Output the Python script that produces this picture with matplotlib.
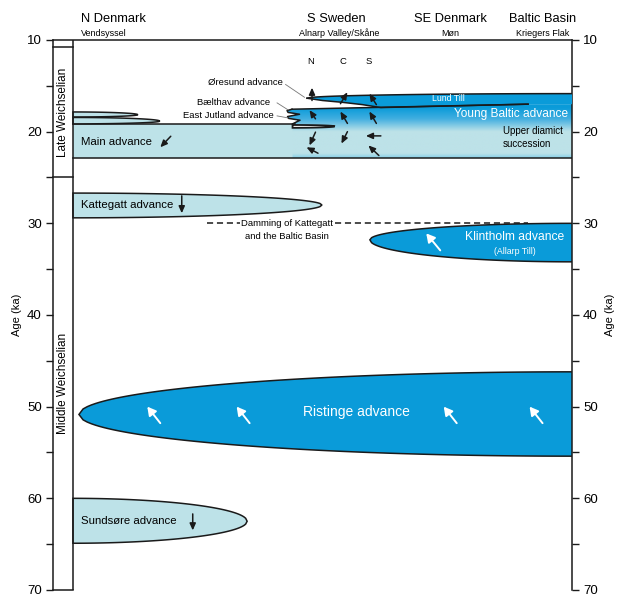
import matplotlib
matplotlib.use("Agg")
import matplotlib.pyplot as plt
import numpy as np
from matplotlib.patches import Polygon
from matplotlib.colors import LinearSegmentedColormap
from matplotlib.ticker import MultipleLocator

plt.rcParams['font.family'] = ['Liberation Sans', 'DejaVu Sans']

LIGHT = '#bde2e8'
DARK = '#0a9bd9'
LINE = '#1a1a1a'

# x = distance along the transect (0 = N Denmark, 100 = Baltic Basin), y = age in ka
regions = ['N Denmark', 'S Sweden', 'SE Denmark', 'Baltic Basin']
sites = ['Vendsyssel', 'Alnarp Valley/Skåne', 'Møn', 'Kriegers Flak']
region_x = [1.6, 53.3, 75.6, 94.2]

# advances drawn as lenses: tip position and ka range at their base
lens_names = ['Sundsøre advance', 'Kattegatt advance', 'Ristinge advance', 'Klintholm advance']
lens_tip_x = [34.9, 49.9, 1.2, 59.5]
lens_tip_ka = [62.5, 28.0, 50.85, 31.8]
lens_base_x = [0, 0, 100, 100]
lens_top_ka = [60.0, 26.7, 46.2, 30.0]
lens_bot_ka = [64.9, 29.4, 55.4, 34.2]
lens_colors = [LIGHT, LIGHT, DARK, DARK]

# small Late Weichselian lenses in N Denmark
late_tip_x = [13.0, 17.4]
late_tip_ka = [18.15, 18.85]
late_top_ka = [17.85, 18.45]
late_bot_ka = [18.4, 19.15]

# main advance band
main_top_ka = 19.15
main_bot_ka = 22.85

# Young Baltic advance: left (Bælthav) edge and top edge
yb_edge_x = [43.9, 42.9, 43.1, 45.4, 43.0, 43.2, 45.5, 44.0]
yb_edge_ka = [17.55, 17.7, 17.9, 18.1, 18.35, 18.55, 18.75, 19.15]
yb_top_x = [43.9, 91.2, 100]
yb_top_ka = [17.55, 17.0, 17.0]
yb_stops_ka = [16.8, 17.4, 18.6, 20.0, 22.4, 22.9]
yb_stop_colors = [DARK, DARK, '#40aee0', LIGHT, LIGHT, '#86cfe7']

# Lund Till lens
lund_tip = (46.9, 16.35)
lund_top_end_ka = 15.85
lund_bot_x = [46.9, 50.0, 54.0, 58.0, 61.7, 91.2, 100]
lund_bot_ka = [16.35, 16.6, 16.8, 17.05, 17.37, 17.0, 17.0]

# East Jutland lens
ej_base_x, ej_top_ka, ej_bot_ka = 44.0, 19.27, 19.58
ej_tip_x, ej_tip_ka = 52.5, 19.42

# ice-flow arrows (tail x, tail ka, head x, head ka)
black_arrows = [
    (47.9, 16.6, 47.9, 15.2),
    (48.6, 18.6, 47.4, 17.65),
    (48.6, 20.05, 47.4, 21.5),
    (49.1, 22.35, 46.8, 21.7),
    (53.6, 16.95, 55.0, 15.7),
    (55.0, 19.1, 53.6, 17.8),
    (55.0, 20.0, 53.8, 21.3),
    (60.8, 17.05, 59.4, 15.85),
    (60.8, 19.1, 59.4, 17.8),
    (61.7, 20.46, 58.7, 20.46),
    (61.3, 22.6, 59.2, 21.5),
    (19.6, 20.5, 17.5, 21.7),
    (21.8, 27.0, 21.8, 28.9),
    (24.0, 61.7, 24.0, 63.5),
]
ristinge_arrow_x = [16.2, 34.1, 75.6, 92.8]
ristinge_arrow_ka = (51.8, 50.0)
klintholm_arrow = (73.6, 32.95, 70.8, 31.1)

# callout labels with leader lines
callouts = ['Øresund advance', 'Bælthav advance', 'East Jutland advance']
callout_x = [42.1, 39.6, 40.2]
callout_ka = [14.6, 16.86, 18.2]
leader_from = [(42.6, 14.85), (40.9, 16.86), (40.9, 18.28)]
leader_to = [(46.4, 16.25), (43.1, 17.62), (43.1, 18.5)]

damming_ka = 30.0
damming_x = [(26.9, 33.5), (52.5, 91.2)]


def lens(tip_x, tip_ka, base_x, top_ka, bot_ka, n=120):
    t = np.linspace(0, 1, n)
    e = np.sqrt(1 - (1 - t) ** 2)
    x = tip_x + (base_x - tip_x) * t
    top = tip_ka + (top_ka - tip_ka) * e
    bot = tip_ka + (bot_ka - tip_ka) * e
    return np.column_stack([np.concatenate([x, x[::-1]]),
                            np.concatenate([top, bot[::-1]])])


fig = plt.figure(figsize=(6.22, 5.96), dpi=100)
ax = fig.add_axes([53 / 622, 6 / 596, 519 / 622, 550 / 596])

# main advance band
ax.add_patch(Polygon([(0, main_top_ka), (100, main_top_ka), (100, main_bot_ka), (0, main_bot_ka)],
                     closed=True, facecolor=LIGHT, edgecolor='none', zorder=1))
ax.plot([0, 44.5], [main_top_ka, main_top_ka], color=LINE, lw=1.1, zorder=4)
ax.plot([0, 100], [main_bot_ka, main_bot_ka], color=LINE, lw=1.1, zorder=4)

# Young Baltic gradient
yb_poly = list(zip(yb_edge_x[::-1], yb_edge_ka[::-1]))[:-1] + list(zip(yb_top_x, yb_top_ka)) \
    + [(100, main_bot_ka), (44.0, main_bot_ka), (44.0, 19.15)]
yb_patch = Polygon(yb_poly, closed=True, facecolor='none', edgecolor='none', zorder=2)
ax.add_patch(yb_patch)
span = yb_stops_ka[-1] - yb_stops_ka[0]
cmap = LinearSegmentedColormap.from_list(
    'yb', [((k - yb_stops_ka[0]) / span, c) for k, c in zip(yb_stops_ka, yb_stop_colors)])
grad = np.linspace(0, 1, 300).reshape(-1, 1)
im = ax.imshow(grad, cmap=cmap, aspect='auto', origin='upper', interpolation='bilinear',
               extent=[42, 100, yb_stops_ka[-1], yb_stops_ka[0]], zorder=2)
im.set_clip_path(yb_patch)
ax.plot(yb_edge_x, yb_edge_ka, color=LINE, lw=1.1, zorder=4)
ax.plot(yb_top_x[:2], yb_top_ka[:2], color=LINE, lw=1.1, zorder=4)

# Lund Till
tt = np.linspace(0, 1, 80)
lund_top_x = lund_tip[0] + (100 - lund_tip[0]) * tt
lund_top = lund_tip[1] + (lund_top_end_ka - lund_tip[1]) * np.sqrt(1 - (1 - tt) ** 2)
lund_poly = np.column_stack([np.concatenate([lund_top_x, lund_bot_x[::-1]]),
                             np.concatenate([lund_top, lund_bot_ka[::-1]])])
ax.add_patch(Polygon(lund_poly, closed=True, facecolor=DARK, edgecolor='none', zorder=3))
ax.plot(lund_top_x, lund_top, color=LINE, lw=1.1, zorder=4)
ax.plot(lund_bot_x[:-1], lund_bot_ka[:-1], color=LINE, lw=1.1, zorder=4)

# East Jutland lens
ax.add_patch(Polygon(lens(ej_tip_x, ej_tip_ka, ej_base_x, ej_top_ka, ej_bot_ka)[:-1],
                     closed=False, facecolor='white', edgecolor=LINE, lw=1.3, zorder=5))

# Late Weichselian lenses in N Denmark
for tx, tk, a, b in zip(late_tip_x, late_tip_ka, late_top_ka, late_bot_ka):
    ax.add_patch(Polygon(lens(tx, tk, 0, a, b), closed=True, facecolor=LIGHT,
                         edgecolor=LINE, lw=1.1, zorder=4))

# other advances
for tx, tk, bx, a, b, c in zip(lens_tip_x, lens_tip_ka, lens_base_x, lens_top_ka, lens_bot_ka, lens_colors):
    ax.add_patch(Polygon(lens(tx, tk, bx, a, b), closed=True, facecolor=c,
                         edgecolor=LINE, lw=1.1, zorder=4))

# arrows
for x0, y0, x1, y1 in black_arrows:
    ax.annotate('', xy=(x1, y1), xytext=(x0, y0), zorder=6,
                arrowprops=dict(arrowstyle='-|>,head_length=0.45,head_width=0.2', color=LINE,
                                lw=1.1, shrinkA=0, shrinkB=0, mutation_scale=9))
white_arrows = [(x + 1.3, ristinge_arrow_ka[0], x - 1.3, ristinge_arrow_ka[1]) for x in ristinge_arrow_x]
white_arrows.append(klintholm_arrow)
for x0, y0, x1, y1 in white_arrows:
    ax.annotate('', xy=(x1, y1), xytext=(x0, y0), zorder=6,
                arrowprops=dict(arrowstyle='-|>,head_length=0.5,head_width=0.28', color='white',
                                lw=1.4, shrinkA=0, shrinkB=0, mutation_scale=10))

# labels inside the diagram
ax.text(1.6, 21.1, 'Main advance', fontsize=8.2, va='center', zorder=7)
ax.text(1.6, lens_tip_ka[1], lens_names[1], fontsize=8.2, va='center', zorder=7)
ax.text(1.6, lens_tip_ka[0], lens_names[0], fontsize=8.2, va='center', zorder=7)
ax.text(56.9, 50.6, lens_names[2], fontsize=10, color='white', ha='center', va='center', zorder=7)
ax.text(88.6, 31.45, lens_names[3], fontsize=8.7, color='white', ha='center', va='center', zorder=7)
ax.text(88.6, 33.1, '(Allarp Till)', fontsize=6.3, color='white', ha='center', va='center', zorder=7)
ax.text(75.2, 16.4, 'Lund Till', fontsize=6.3, color='white', ha='center', va='center', zorder=7)
ax.text(87.8, 18.1, 'Young Baltic advance', fontsize=8.6, color='white', ha='center', va='center', zorder=7)
ax.text(86.2, 20.65, 'Upper diamict\nsuccession', fontsize=7, ha='left', va='center',
        linespacing=1.45, zorder=7)

for x0, x1 in damming_x:
    ax.plot([x0, x1], [damming_ka, damming_ka], color=LINE, lw=1.1, ls=(0, (4, 2.5)), zorder=4)
ax.text(42.9, damming_ka, 'Damming of Kattegatt', fontsize=6.8, ha='center', va='center')
ax.text(42.9, 31.45, 'and the Baltic Basin', fontsize=6.8, ha='center', va='center')

for s, x, k, (fx, fk), (lx, lk) in zip(callouts, callout_x, callout_ka, leader_from, leader_to):
    ax.text(x, k, s, fontsize=6.8, ha='right', va='center')
    ax.plot([fx, lx], [fk, lk], color='#777777', lw=0.6, zorder=5)

for s, x in zip(['N', 'C', 'S'], [47.7, 54.1, 59.3]):
    ax.text(x, 12.4, s, fontsize=6.8, ha='center', va='center')

# column headers
ax.text(region_x[0], 7.75, regions[0], fontsize=9.3, ha='left', va='center', clip_on=False)
ax.text(region_x[0], 9.3, sites[0], fontsize=6.5, ha='left', va='center', clip_on=False)
for r, s, x in zip(regions[1:], sites[1:], region_x[1:]):
    ax.text(x - 0.6 if r == 'S Sweden' else x, 7.75, r, fontsize=9.3, ha='center', va='center', clip_on=False)
    ax.text(x, 9.3, s, fontsize=6.5, ha='center', va='center', clip_on=False)

# stage column on the left
for k in [10.8, 25, 70]:
    ax.plot([-4.0, 0], [k, k], color=LINE, lw=1.1, clip_on=False, zorder=8)
ax.plot([0, 0], [10, 70], color=LINE, lw=1.1, zorder=8)
ax.text(-2.0, 17.9, 'Late Weichselian', rotation=90, fontsize=8.5, ha='center', va='center')
ax.text(-2.0, 47.5, 'Middle Weichselian', rotation=90, fontsize=8.5, ha='center', va='center')

ax.set_xlim(-4.0, 100)
ax.set_ylim(70, 10)
ax.set_xticks([])
ax.yaxis.set_major_locator(MultipleLocator(10))
ax.yaxis.set_minor_locator(MultipleLocator(5))
ax.tick_params(axis='y', which='both', direction='out', left=True, right=True,
               labelleft=True, labelright=True, length=5, width=1.0, color=LINE,
               labelsize=9.5, pad=3)
for side in ['left', 'right', 'top']:
    ax.spines[side].set_linewidth(1.1)
    ax.spines[side].set_color(LINE)
ax.spines['bottom'].set_visible(False)

fig.text(17 / 622, 1 - 315 / 596, 'Age (ka)', rotation=90, fontsize=8, ha='center', va='center')
fig.text(610 / 622, 1 - 315 / 596, 'Age (ka)', rotation=90, fontsize=8, ha='center', va='center')

fig.savefig('out.png', dpi=100)
